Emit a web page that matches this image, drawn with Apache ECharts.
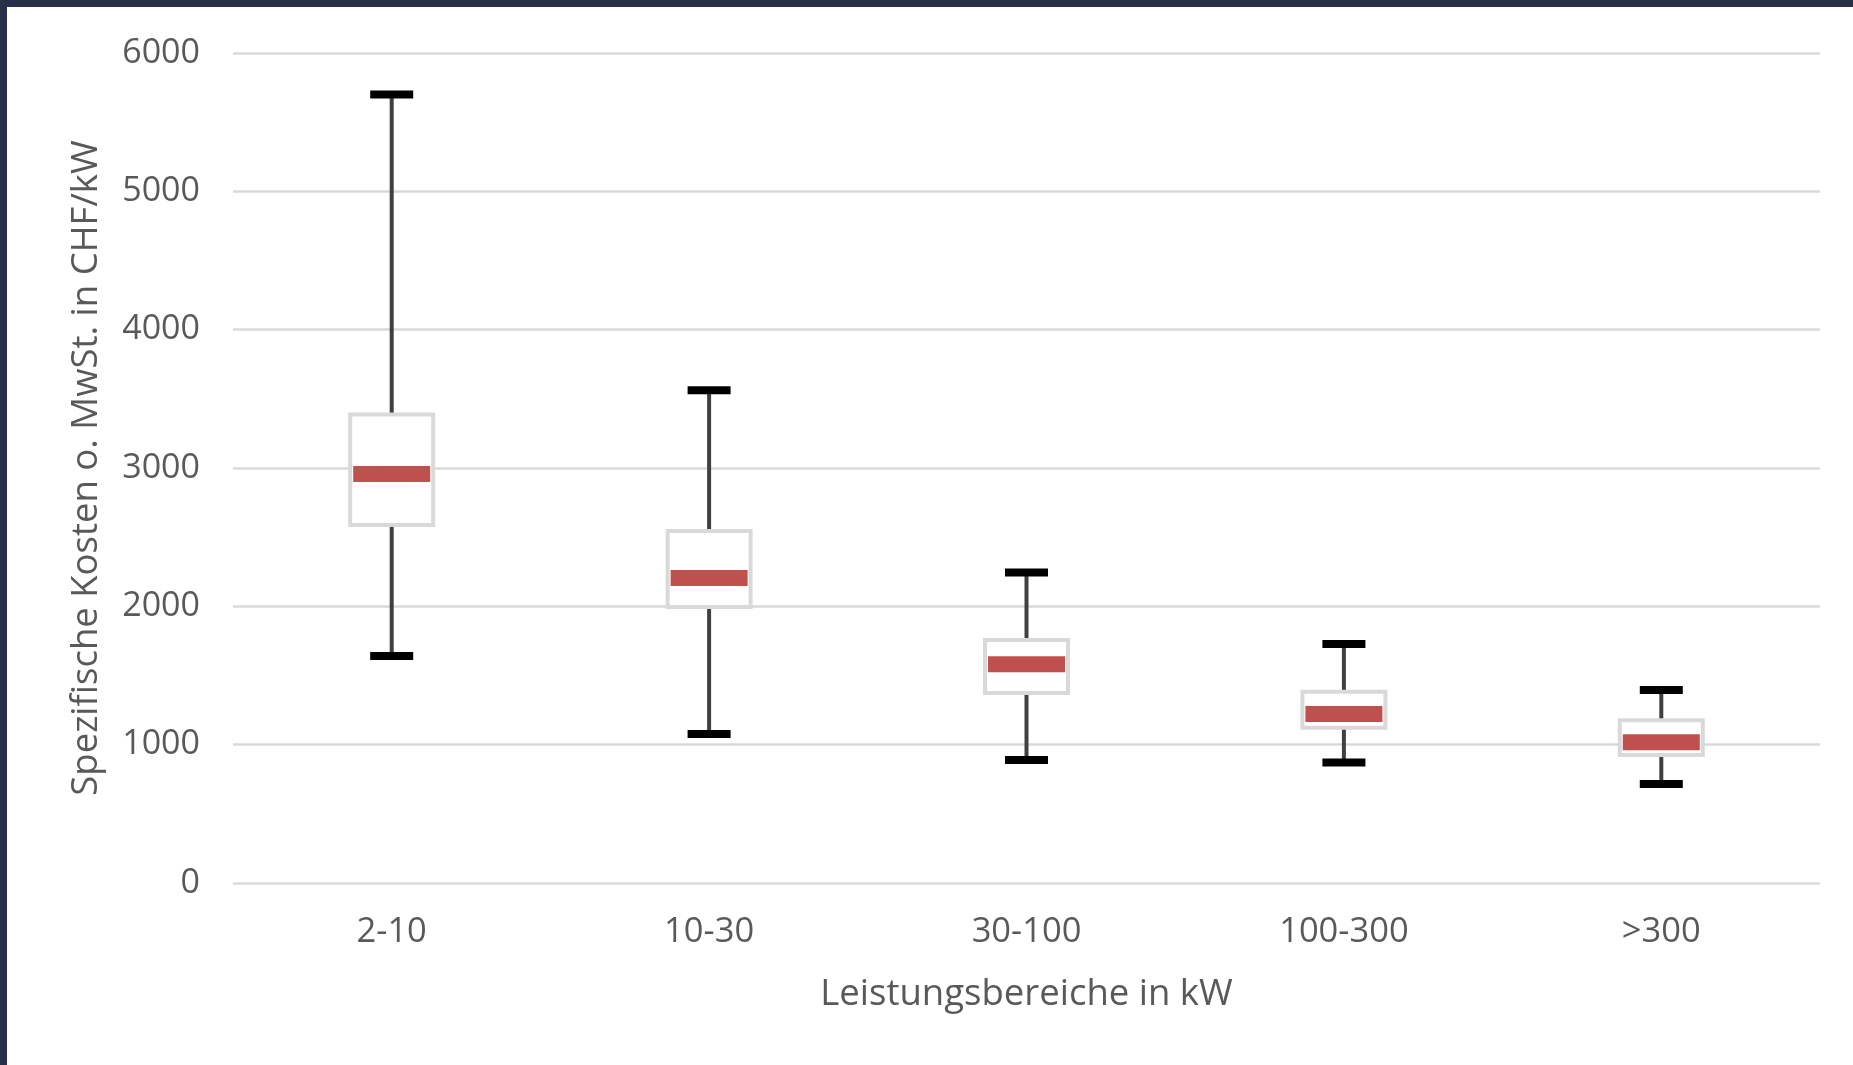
<!DOCTYPE html>
<html>
<head>
<meta charset="utf-8">
<script src="https://cdn.jsdelivr.net/npm/echarts@6/dist/echarts.min.js"></script>
<style>
  html, body { margin: 0; padding: 0; background: #ffffff; }
  #frame { position: absolute; left: 0; top: 0; width: 1853px; height: 1065px; background: #282f48; }
  #chart { position: absolute; left: 7px; top: 7px; width: 1846px; height: 1058px; background: #ffffff; }
</style>
</head>
<body>
<div id="frame"></div>
<div id="chart"></div>
<script>
// Data
const categories = ['2-10', '10-30', '30-100', '100-300', '>300'];
const minValues    = [1641, 1077,  889,  871,  716];
const q1Values     = [2588, 1995, 1374, 1123,  925];
const medianValues = [2957, 2205, 1581, 1222, 1017];
const q3Values     = [3387, 2545, 1757, 1383, 1176];
const maxValues    = [5700, 3562, 2245, 1728, 1395];
const yTicks = [0, 1000, 2000, 3000, 4000, 5000, 6000];

const seriesData = categories.map((c, i) => [i, minValues[i], q1Values[i], medianValues[i], q3Values[i], maxValues[i]]);

const textColor = '#595959';
const fontFamily = '"Open Sans", "Noto Sans", sans-serif';

const chart = echarts.init(document.getElementById('chart'), null, { renderer: 'canvas' });

function renderItem(params, api) {
  const idx = api.value(0);
  const pMin = api.coord([idx, api.value(1)]);
  const pQ1 = api.coord([idx, api.value(2)]);
  const pMed = api.coord([idx, api.value(3)]);
  const pQ3 = api.coord([idx, api.value(4)]);
  const pMax = api.coord([idx, api.value(5)]);
  const band = api.size([1, 0])[0];
  const x = pMed[0];
  const boxW = band * 0.2615;
  const medW = band * 0.2426;
  const capW = band * 0.1355;
  const whiskerStyle = { stroke: '#404040', lineWidth: 4, fill: null };
  const capStyle = { stroke: '#000000', lineWidth: 8, fill: null };
  return {
    type: 'group',
    children: [
      { type: 'line', shape: { x1: x, y1: pMax[1], x2: x, y2: pQ3[1] }, style: whiskerStyle },
      { type: 'line', shape: { x1: x, y1: pQ1[1], x2: x, y2: pMin[1] }, style: whiskerStyle },
      { type: 'line', shape: { x1: x - capW / 2, y1: pMax[1], x2: x + capW / 2, y2: pMax[1] }, style: capStyle },
      { type: 'line', shape: { x1: x - capW / 2, y1: pMin[1], x2: x + capW / 2, y2: pMin[1] }, style: capStyle },
      { type: 'rect', shape: { x: x - boxW / 2, y: pQ3[1], width: boxW, height: pQ1[1] - pQ3[1] },
        style: { fill: '#ffffff', stroke: '#d9d9d9', lineWidth: 4 } },
      { type: 'line', shape: { x1: x - medW / 2, y1: pMed[1], x2: x + medW / 2, y2: pMed[1] },
        style: { stroke: '#c0504d', lineWidth: 16, fill: null } }
    ]
  };
}

chart.setOption({
  animation: false,
  backgroundColor: '#ffffff',
  grid: { left: 226, right: 33, top: 46, bottom: 182, containLabel: false },
  xAxis: {
    type: 'category',
    data: categories,
    boundaryGap: true,
    axisLine: { show: false },
    axisTick: { show: false },
    axisLabel: { color: textColor, fontSize: 34.5, fontFamily: fontFamily, margin: 32 },
    name: 'Leistungsbereiche in kW',
    nameLocation: 'middle',
    nameGap: 93,
    nameTextStyle: { color: textColor, fontSize: 36.5, fontFamily: fontFamily }
  },
  yAxis: {
    type: 'value',
    min: yTicks[0],
    max: yTicks[yTicks.length - 1],
    interval: 1000,
    axisLine: { show: false },
    axisTick: { show: false },
    axisLabel: { color: textColor, fontSize: 34, fontFamily: fontFamily, margin: 33,
      formatter: function (v) { return String(v); } },
    splitLine: { lineStyle: { color: '#d9d9d9', width: 2.5 } },
    name: 'Spezifische Kosten o. MwSt. in CHF/kW',
    nameLocation: 'middle',
    nameGap: 128,
    nameTextStyle: { color: textColor, fontSize: 36.5, fontFamily: fontFamily }
  },
  series: [{
    type: 'custom',
    renderItem: renderItem,
    encode: { x: 0, y: [1, 2, 3, 4, 5] },
    data: seriesData,
    clip: false
  }]
});
</script>
</body>
</html>
